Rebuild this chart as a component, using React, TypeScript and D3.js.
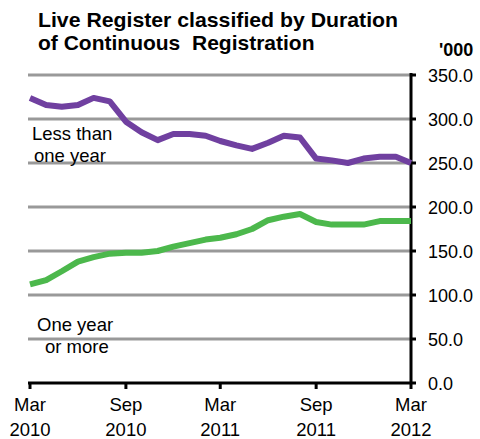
import React from "react";
import * as d3 from "d3";

const months = d3.range(25).map((i) => new Date(2010, 2 + i, 1));
const lessThanOneYear = [324, 316, 314, 316, 324, 320, 297, 285, 276, 283, 283, 281, 275, 270, 266, 273, 281, 279, 255, 253, 250, 255, 257, 257, 250];
const oneYearOrMore = [112, 117, 127, 138, 143, 147, 148, 148, 150, 155, 159, 163, 165, 169, 175, 185, 189, 192, 183, 180, 180, 180, 184, 184, 184];
const yTicks = [0, 50, 100, 150, 200, 250, 300, 350];
const xTickDates = [new Date(2010, 2, 1), new Date(2010, 8, 1), new Date(2011, 2, 1), new Date(2011, 8, 1), new Date(2012, 2, 1)];
const xTickLabels = [["Mar", "2010"], ["Sep", "2010"], ["Mar", "2011"], ["Sep", "2011"], ["Mar", "2012"]];

const W = 480, H = 439;
const FONT = "'Liberation Sans', Arial, sans-serif";

export default function App() {
  const x = d3.scaleTime().domain([months[0], months[24]]).range([30, 411]);
  const y = d3.scaleLinear().domain([0, 350]).range([383, 75]);
  const line = d3.line<number>().x((_, i) => x(months[i])).y((d) => y(d));
  return (
    <svg width={W} height={H} style={{ position: "absolute", left: 0, top: 0, background: "#fff", whiteSpace: "pre" }} fontFamily={FONT}>
      <text x={38} y={27} fontSize={21} fontWeight="bold" textLength={360} lengthAdjust="spacingAndGlyphs">Live Register classified by Duration</text>
      <text x={38} y={50} fontSize={21} fontWeight="bold" xmlSpace="preserve">of Continuous  Registration</text>
      <text x={439} y={56} fontSize={18} fontWeight="bold">'000</text>
      {yTicks.filter((t) => t > 0).map((t) => (
        <line key={t} x1={28} x2={411} y1={y(t)} y2={y(t)} stroke="#999" strokeWidth={3} />
      ))}
      <line x1={411} x2={411} y1={y(350) - 2} y2={y(0)} stroke="#000" strokeWidth={3} />
      <line x1={28} x2={412} y1={y(0)} y2={y(0)} stroke="#000" strokeWidth={3} />
      {yTicks.map((t) => (
        <g key={t}>
          <line x1={411} x2={416} y1={y(t)} y2={y(t)} stroke="#000" strokeWidth={3} />
          <text x={428} y={y(t) + 6.5} fontSize={18}>{t.toFixed(1)}</text>
        </g>
      ))}
      {xTickDates.map((d, i) => (
        <g key={i}>
          <line x1={x(d)} x2={x(d)} y1={y(0)} y2={y(0) + 6} stroke="#000" strokeWidth={3} />
          <text x={x(d)} y={411} fontSize={18.5} textAnchor="middle">{xTickLabels[i][0]}</text>
          <text x={x(d)} y={436} fontSize={18.5} textAnchor="middle">{xTickLabels[i][1]}</text>
        </g>
      ))}
      <path d={line(lessThanOneYear) || ""} fill="none" stroke="#7040a0" strokeWidth={6} strokeLinejoin="round" />
      <path d={line(oneYearOrMore) || ""} fill="none" stroke="#4cb84c" strokeWidth={6} strokeLinejoin="round" />
      <text x={32} y={140} fontSize={18.5}>Less than</text>
      <text x={34} y={162} fontSize={18.5}>one year</text>
      <text x={37} y={331} fontSize={18.5}>One year</text>
      <text x={45} y={353} fontSize={18.5}>or more</text>
    </svg>
  );
}
